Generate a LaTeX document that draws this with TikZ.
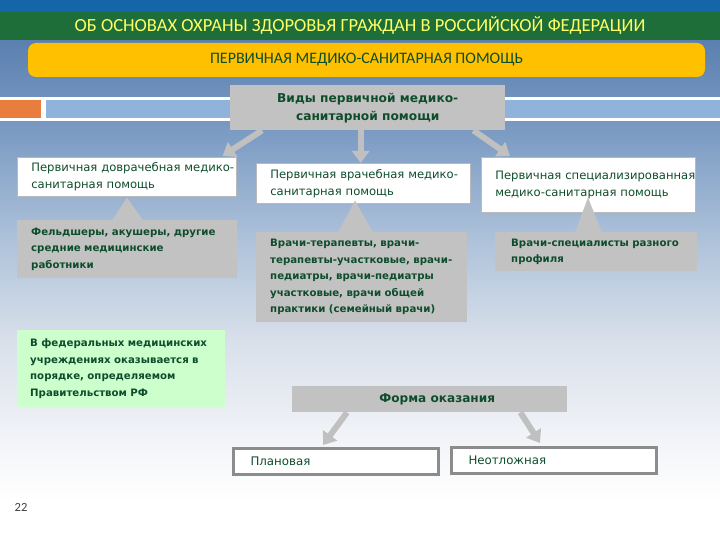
\documentclass[tikz,border=0pt]{standalone}
\usepackage{fontspec}
\setmainfont{DejaVu Sans}
\newfontfamily\calib{Carlito}
\usetikzlibrary{arrows.meta,calc}
\definecolor{topblue}{HTML}{1565A9}
\definecolor{bandgreen}{HTML}{1E6E3A}
\definecolor{titleyellow}{HTML}{FFFF66}
\definecolor{boxyellow}{HTML}{FFC000}
\definecolor{txtgreen}{HTML}{0E4D2B}
\definecolor{boxgray}{HTML}{C2C2C2}
\definecolor{arrowgray}{HTML}{C0C0C0}
\definecolor{lightgreen}{HTML}{CCFFCC}
\definecolor{stripeorange}{HTML}{E87D3E}
\definecolor{stripeblue}{HTML}{8FB3DA}
\definecolor{bordergray}{HTML}{8C8C8C}
\definecolor{bgA}{HTML}{5B80B0}
\definecolor{bgB}{HTML}{7F9EC5}
\definecolor{bgC}{HTML}{AEC2DA}
\definecolor{bgD}{HTML}{D8E0EA}
\definecolor{bgE}{HTML}{F2F4F8}
\begin{document}
\begin{tikzpicture}[x=1pt,y=-1pt,
  basebox/.style={anchor=north west, inner xsep=0pt, inner ysep=0pt, align=left, text=txtgreen},
  whitebox/.style={basebox, fill=white, draw=gray!55, line width=0.6pt, font=\fontsize{11.6}{17}\selectfont, execute at begin node={\leftskip=14pt\relax}},
  graybox/.style={basebox, fill=boxgray, font=\bfseries\fontsize{10.2}{16.5}\selectfont, execute at begin node={\leftskip=14pt\relax}},
  framebox/.style={basebox, fill=white, draw=bordergray, line width=3pt, font=\fontsize{11.8}{13}\selectfont, execute at begin node={\leftskip=17pt\relax}},
  bigarrow/.style={draw=arrowgray, line width=6pt, -{Triangle[width=17pt,length=12pt]}},
  uptri/.style={fill=boxgray}
]
\useasboundingbox (0,0) rectangle (720,540);
% background
\fill[white] (0,0) rectangle (720,540);
\shade[top color=bgA, bottom color=bgB] (0,40) rectangle (720,140.5);
\shade[top color=bgB, bottom color=bgC] (0,140) rectangle (720,240.5);
\shade[top color=bgC, bottom color=bgD] (0,240) rectangle (720,340.5);
\shade[top color=bgD, bottom color=bgE] (0,340) rectangle (720,440.5);
\shade[top color=bgE, bottom color=white] (0,440) rectangle (720,500);
\fill[topblue] (0,0) rectangle (720,12);
\fill[bandgreen] (0,12) rectangle (720,40);
% stripe
\fill[white] (0,97) rectangle (720,121);
\fill[stripeorange] (0,100) rectangle (41,118);
\fill[stripeblue] (46,100) rectangle (720,118);
% title
\node[text=titleyellow, font=\calib\fontsize{18.5}{20}\selectfont] (title) at (360,25) {ОБ ОСНОВАХ ОХРАНЫ ЗДОРОВЬЯ ГРАЖДАН В РОССИЙСКОЙ ФЕДЕРАЦИИ};
\node[fill=boxyellow, rounded corners=8pt, minimum width=677pt, minimum height=34pt, inner sep=0pt, text=txtgreen, font=\calib\fontsize{16}{18}\selectfont] (pmsp) at (366.5,60) {ПЕРВИЧНАЯ МЕДИКО-САНИТАРНАЯ ПОМОЩЬ};
% central box
\node[anchor=north west, fill=boxgray, minimum width=275pt, minimum height=45pt, inner sep=0pt, align=center, text=txtgreen, font=\bfseries\fontsize{12.2}{18}\selectfont] (vid) at (230,85) {Виды первичной медико-\\санитарной помощи};
% white boxes
\node[whitebox, text width=219pt, minimum height=39pt] (b1) at (17,157) {Первичная доврачебная медико-\\санитарная помощь};
\node[whitebox, text width=214pt, minimum height=40pt] (b2) at (256,163) {Первичная врачебная медико-\\санитарная помощь};
\node[whitebox, text width=214pt, minimum height=55pt] (b3) at (481,157) {Первичная специализированная\\медико-санитарная помощь};
% gray boxes
\node[graybox, text width=220pt, minimum height=58pt] (g1) at (17,220) {Фельдшеры, акушеры, другие\\средние медицинские\\работники};
\node[graybox, text width=211pt, minimum height=90pt] (g2) at (256,232) {Врачи-терапевты, врачи-\\терапевты-участковые, врачи-\\педиатры, врачи-педиатры\\участковые, врачи общей\\практики (семейный врачи)};
\node[graybox, text width=202pt, minimum height=39pt, execute at begin node={\leftskip=16pt\relax}] (g3) at (495,232) {Врачи-специалисты разного\\профиля};
\node[graybox, fill=lightgreen, text width=208pt, minimum height=77pt, execute at begin node={\leftskip=13pt\relax}] (gr) at (17,330) {В федеральных медицинских\\учреждениях оказывается в\\порядке, определяемом\\Правительством РФ};
% form
\node[anchor=north west, fill=boxgray, minimum width=275pt, minimum height=26pt, inner sep=0pt, text=txtgreen, font=\bfseries\fontsize{12.1}{13}\selectfont] (forma) at (292,386) {\hspace*{15pt}Форма оказания};
\node[framebox, text width=205pt, minimum height=26pt] (plan) at (232,447) {Плановая};
\node[framebox, text width=205pt, minimum height=26pt] (neot) at (450,446) {Неотложная};
% up triangles
\fill[uptri] ($(g1.north west)+(95,0.5)$) -- ($(g1.north west)+(126,0.5)$) -- ($(b1.south west)+(110,1)$) -- cycle;
\fill[uptri] ($(g2.north west)+(82,0.5)$) -- ($(g2.north west)+(117,0.5)$) -- ($(b2.south west)+(99,-3)$) -- cycle;
\fill[uptri] ($(g3.north west)+(80,0.5)$) -- ($(g3.north west)+(107,0.5)$) -- ($(b3.south west)+(107,-15)$) -- cycle;
% arrows from central box
\draw[bigarrow] ($(vid.south west)+(32,0)$) -- ($(b1.north east)+(-14,-1)$);
\coordinate (m1) at ($(vid.south)+(-7,0)$);
\draw[bigarrow] (m1) -- (m1 |- b2.north);
\draw[bigarrow] ($(vid.south east)+(-32,0)$) -- ($(b3.north west)+(29,-1)$);
% arrows from form
\draw[bigarrow] ($(forma.south west)+(55,0)$) -- ($(plan.north west)+(91,-2)$);
\draw[bigarrow] ($(forma.south east)+(-47,0)$) -- ($(neot.north west)+(90,-3)$);
% page number
\node[text=black!75, font=\calib\fontsize{12.5}{14}\selectfont] (pg) at (21,507) {22};
\end{tikzpicture}
\end{document}
